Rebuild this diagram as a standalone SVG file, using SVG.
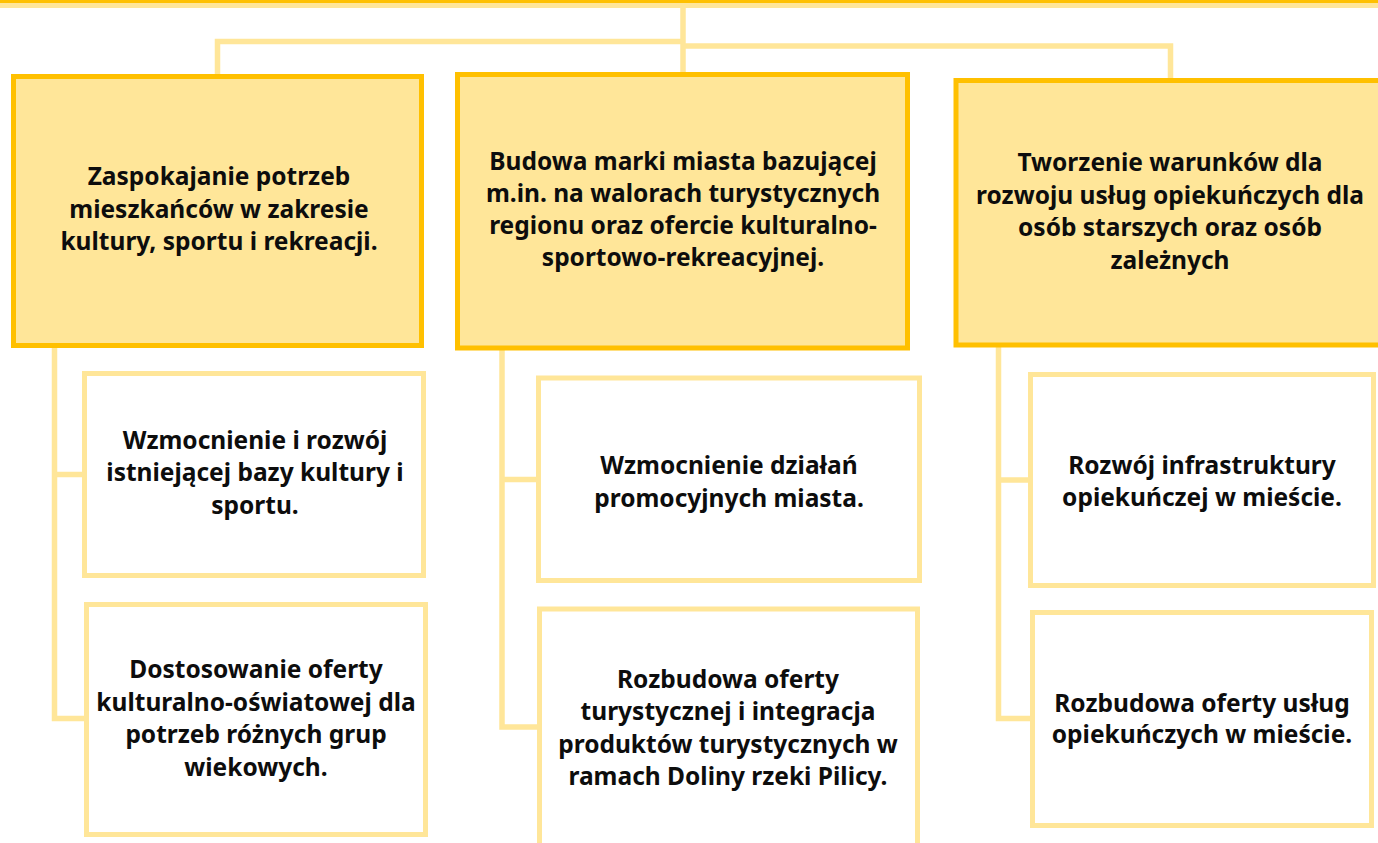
<svg xmlns="http://www.w3.org/2000/svg" width="1378" height="843" viewBox="0 0 1378 843">
<style>
.main{fill:#FFE699;stroke:#FFC000;stroke-width:5}
.sub{fill:#FFFFFF;stroke:#FFE699;stroke-width:5}
.conn{fill:none;stroke:#FFE699;stroke-width:5.5}
text{font-family:"Noto Sans","Open Sans","DejaVu Sans",sans-serif;font-weight:bold;font-size:24.5px;fill:#0D0D0D;text-anchor:middle}
</style>
<rect x="0" y="0" width="1378" height="3" fill="#FFC000"/>
<rect x="0" y="3" width="1378" height="5" fill="#FFE699"/>
<g id="connectors">
<path class="conn" d="M683 8 V74"/>
<path class="conn" d="M217.5 75 V41.5 H683"/>
<path class="conn" d="M683 46 H1170.5 V80"/>
<path class="conn" d="M54.5 347 V718.5 H86"/>
<path class="conn" d="M54.5 474.5 H84"/>
<path class="conn" d="M502 349 V727 H538"/>
<path class="conn" d="M502 479.5 H538"/>
<path class="conn" d="M998.5 346 V718.5 H1031"/>
<path class="conn" d="M998.5 480 H1030"/>
</g>
<g id="goal1">
<rect class="main" x="13.5" y="76.5" width="408" height="269"/>
<text x="219" y="185">Zaspokajanie potrzeb</text>
<text x="219" y="218">mieszkańców w zakresie</text>
<text x="219" y="250">kultury, sportu i rekreacji.</text>
</g>
<g id="goal2">
<rect class="main" x="457.5" y="74.5" width="450" height="273.5"/>
<text x="683" y="170">Budowa marki miasta bazującej</text>
<text x="683" y="202">m.in. na walorach turystycznych</text>
<text x="683" y="234">regionu oraz ofercie kulturalno-</text>
<text x="683" y="266">sportowo-rekreacyjnej.</text>
</g>
<g id="goal3">
<rect class="main" x="956" y="80.5" width="440" height="264.5"/>
<text x="1170" y="171">Tworzenie warunków dla</text>
<text x="1170" y="204">rozwoju usług opiekuńczych dla</text>
<text x="1170" y="236">osób starszych oraz osób</text>
<text x="1170" y="269">zależnych</text>
</g>
<g id="sub1a">
<rect class="sub" x="84.5" y="373.5" width="339" height="202"/>
<text x="255" y="449">Wzmocnienie i rozwój</text>
<text x="255" y="481">istniejącej bazy kultury i</text>
<text x="255" y="514">sportu.</text>
</g>
<g id="sub1b">
<rect class="sub" x="86.5" y="604.5" width="339" height="230"/>
<text x="256" y="678">Dostosowanie oferty</text>
<text x="256" y="711">kulturalno-oświatowej dla</text>
<text x="256" y="743">potrzeb różnych grup</text>
<text x="256" y="776">wiekowych.</text>
</g>
<g id="sub2a">
<rect class="sub" x="538.5" y="378" width="381" height="202.5"/>
<text x="729" y="474">Wzmocnienie działań</text>
<text x="729" y="507">promocyjnych miasta.</text>
</g>
<g id="sub2b">
<rect class="sub" x="539.5" y="609" width="378" height="260"/>
<text x="728" y="688">Rozbudowa oferty</text>
<text x="728" y="720">turystycznej i integracja</text>
<text x="728" y="753">produktów turystycznych w</text>
<text x="728" y="785">ramach Doliny rzeki Pilicy.</text>
</g>
<g id="sub3a">
<rect class="sub" x="1030.5" y="374.5" width="343" height="211"/>
<text x="1202" y="474">Rozwój infrastruktury</text>
<text x="1202" y="506">opiekuńczej w mieście.</text>
</g>
<g id="sub3b">
<rect class="sub" x="1032.5" y="612.5" width="339" height="213"/>
<text x="1202" y="712">Rozbudowa oferty usług</text>
<text x="1202" y="743">opiekuńczych w mieście.</text>
</g>
</svg>
